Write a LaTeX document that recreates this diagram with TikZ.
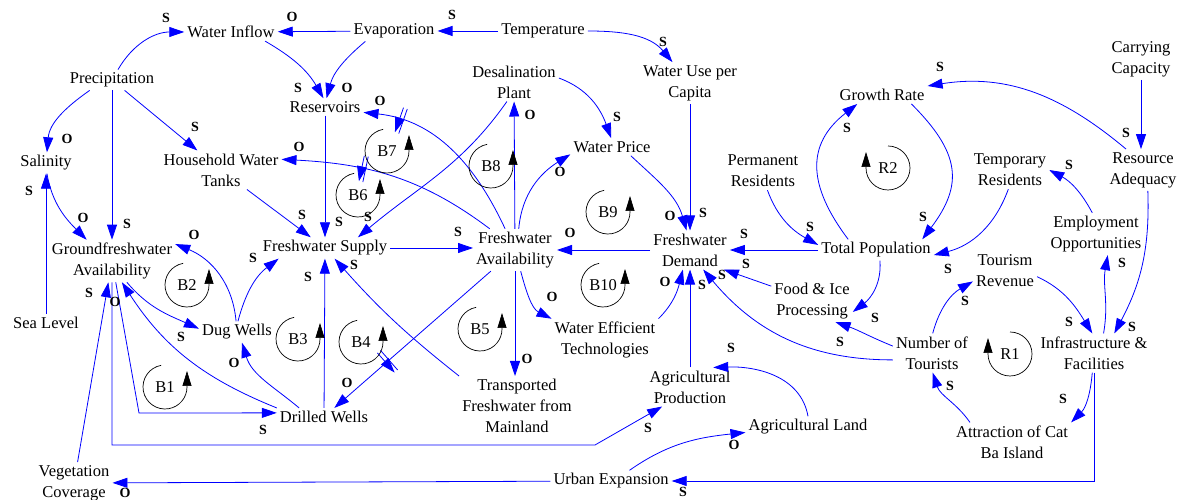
\documentclass[tikz,border=0pt]{standalone}
\usepackage{fontspec}
\setmainfont{Liberation Serif}
\usetikzlibrary{arrows.meta,decorations.markings}

\tikzset{
  varnode/.style={align=center, inner sep=3pt, font=\fontsize{16.5}{21}\selectfont},
  causal/.style={draw=blue, line width=0.8pt, -{Triangle[length=15pt,width=10pt]}},
  polarity/.style={inner sep=0pt, font=\fontsize{14}{14}\selectfont\bfseries},
  delaymark/.style={postaction={decorate, decoration={markings, mark=at position #1 with {
        \draw[blue, line width=0.8pt] (-2,-13) -- (-2,13) (2,-13) -- (2,13);}}}},
  looptext/.style={inner sep=0pt, font=\fontsize{16.5}{21}\selectfont},
  looparc/.style={draw=black, line width=0.7pt, -{Triangle[length=15pt,width=9pt]}}
}

\begin{document}
\begin{tikzpicture}[x=1pt,y=1pt]
  \fill[white] (0,0) rectangle (1177,500);
  \useasboundingbox (0,0) rectangle (1177,500);

  % variables
  \node[varnode] (winflow) at (231,468) {Water Inflow};
  \node[varnode] (evap) at (394,469) {Evaporation};
  \node[varnode] (temp) at (543,469) {Temperature};
  \node[varnode] (prec) at (112,420) {Precipitation};
  \node[varnode] (wupc) at (690,417) {Water Use per\\Capita};
  \node[varnode] (desal) at (514,418) {Desalination\\Plant};
  \node[varnode] (resv) at (325,393) {Reservoirs};
  \node[varnode] (grate) at (882,405) {Growth Rate};
  \node[varnode] (carry) at (1141,441) {Carrying\\Capacity};
  \node[varnode] (salin) at (46,337) {Salinity};
  \node[varnode] (hwt) at (221,330) {Household Water\\Tanks};
  \node[varnode] (wprice) at (612,353) {Water Price};
  \node[varnode] (permres) at (763,329) {Permanent\\Residents};
  \node[varnode] (tempres) at (1010,330) {Temporary\\Residents};
  \node[varnode] (resadq) at (1143,330) {Resource\\Adequacy};
  \node[varnode] (employ) at (1096,266) {Employment\\Opportunities};
  \node[varnode] (gfa) at (112,239) {Groundfreshwater\\Availability};
  \node[varnode] (fsupply) at (325,252) {Freshwater Supply};
  \node[varnode] (favail) at (515,250) {Freshwater\\Availability};
  \node[varnode] (fdemand) at (690,250) {Freshwater\\Demand};
  \node[varnode] (totpop) at (876,250) {Total Population};
  \node[varnode] (tourrev) at (1005,229) {Tourism\\Revenue};
  \node[varnode] (sealvl) at (46,177) {Sea Level};
  \node[varnode] (dugw) at (237,168) {Dug Wells};
  \node[varnode] (foodice) at (812,199) {Food \& Ice\\Processing};
  \node[varnode] (wetech) at (605,160) {Water Efficient\\Technologies};
  \node[varnode] (ntour) at (932,147) {Number of\\Tourists};
  \node[varnode] (infra) at (1094,147) {Infrastructure \&\\Facilities};
  \node[varnode] (drillw) at (324,83) {Drilled Wells};
  \node[varnode] (transp) at (517,94) {Transported\\Freshwater from\\Mainland};
  \node[varnode] (agprod) at (690,113) {Agricultural\\Production};
  \node[varnode] (agland) at (808,73) {Agricultural Land};
  \node[varnode] (attract) at (1012,58) {Attraction of Cat\\Ba Island};
  \node[varnode] (vegcov) at (74,17) {Vegetation\\Coverage};
  \node[varnode] (urban) at (611,19) {Urban Expansion};

  % water side
  \draw[causal] (prec.60) to[out=60,in=180] (winflow);
  \draw[causal] (evap) -- (winflow);
  \draw[causal] (temp) -- (evap);
  \draw[causal] (temp.east) to[out=0,in=130] (wupc.130);
  \draw[causal] (winflow.-15) to[out=-30,in=120] (resv.100);
  \draw[causal] (evap.200) to[out=220,in=75] (resv.80);
  \draw[causal] (prec.205) to[out=215,in=85] (salin.85);
  \draw[causal] (prec) -- (gfa);
  \draw[causal] (prec) -- (hwt);
  \draw[causal] (salin.-85) to[out=-80,in=135] (gfa.140);
  \draw[causal] (sealvl.north) -- (sealvl.north |- salin.south);
  \draw[causal] (resv) -- (fsupply);
  \draw[causal] (hwt) -- (fsupply);
  \draw[causal] (desal.-110) to[out=235,in=40] (fsupply.18);
  \draw[causal, delaymark=0.8] (favail.115) to[out=115,in=-6] (resv.-8);
  \draw[causal, delaymark=0.63] (favail.140) to[out=143,in=-3] (hwt.10);
  \draw[causal] (fsupply.east) -- (fsupply.east -| favail.west);
  \draw[causal] (fdemand) -- (favail);
  \draw[causal] (favail) -- (desal);
  \draw[causal] (favail.80) to[out=85,in=212] (wprice.190);
  \draw[causal] (desal.5) to[out=-20,in=110] (wprice.95);
  \draw[causal] (wprice.-25) to[out=-43,in=106] (fdemand.100);
  \draw[causal] (wupc) -- (fdemand);
  \draw[causal] (totpop) -- (fdemand);
  \draw[causal] (foodice.160) -- (fdemand.-30);
  \draw[causal] (ntour.190) to[out=180,in=-50] (fdemand.-56);
  \draw[causal] (wetech.north east) to[out=45,in=-104] (fdemand.-110);
  \draw[causal] (agprod) -- (fdemand);
  \draw[causal] (favail.-75) to[out=-75,in=153] (wetech.north west);
  \draw[causal] (favail.south) -- (favail.south |- transp.north);
  \draw[causal, delaymark=0.66] (favail) -- (drillw);
  \draw[causal] (transp.north west) to[bend left=5] (fsupply.-48);
  \draw[causal] (drillw) -- (fsupply);

  % groundwater and land
  \draw[causal] (dugw.85) to[out=75,in=217] (fsupply.193);
  \draw[causal] (dugw.95) to[out=95,in=-22] (gfa.15);
  \draw[causal] (gfa.-55) to[out=-50,in=156] (dugw.175);
  \draw[causal] (drillw.160) to[out=140,in=-73] (dugw.-65);
  \draw[causal] (drillw.north west) to[out=158,in=-57] (gfa.-65);
  \draw[causal] (gfa.-80) -- (139,87) -- (drillw.175);
  \draw[causal] (vegcov) -- (gfa);
  \draw[causal] (gfa.-90) -- (112,55) -- (595,55) -- (agprod.-145);
  \draw[causal] (agland.north) to[out=100,in=2] (agprod.40);
  \draw[causal] (urban.30) to[out=35,in=186] (agland.185);
  \draw[causal] (urban) -- (vegcov);
  \draw[causal] (infra.south) |- (urban.east);

  % population and tourism
  \draw[causal] (totpop.-70) to[out=-85,in=37] (foodice.-15);
  \draw[causal] (ntour.170) to[out=158,in=-19] (foodice.-42);
  \draw[causal] (permres.-77) to[out=-70,in=151] (totpop.175);
  \draw[causal] (totpop.159) to[out=127,in=218,looseness=1.25] (grate.200);
  \draw[causal] (grate.-17) to[out=-45,in=53,looseness=1.3] (totpop.13);
  \draw[causal] (resadq.129) to[out=140,in=9] (grate.north east);
  \draw[causal] (carry.south) -- (carry.south |- resadq.north);
  \draw[causal] (tempres.-95) to[out=-110,in=14] (totpop.-5);
  \draw[causal] (employ.100) to[out=118,in=-28] (tempres.east);
  \draw[causal] (infra.64) to[out=80,in=-100] (employ.-61);
  \draw[causal] (resadq.-77) to[out=-88,in=62] (infra.44);
  \draw[causal] (tourrev.-10) to[out=-25,in=122] (infra.95);
  \draw[causal] (ntour.88) to[out=75,in=210] (tourrev.198);
  \draw[causal] (infra.-95) to[out=-95,in=45] (attract.north east);
  \draw[causal] (attract.155) to[out=125,in=-72] (ntour.-88);

  % polarities
  \foreach \t/\x/\y [count=\i] in {S/166/482, O/292/483, S/452/485, S/663/458,
      S/298/412, O/347/412, O/67/361, S/127/276, S/195/373, O/83/282, S/29/309,
      S/339/278, S/302/285, S/368/283, O/380/399, O/299/353, S/458/268, O/570/267,
      O/530/385, O/560/328, S/617/383, O/670/284, S/703/287, S/744/266, S/746/236,
      S/722/225, O/665/218, S/702/215, O/552/203, O/527/141, O/347/117, S/354/235,
      S/308/223, S/253/242, O/194/265, S/181/163, O/234/137, O/115/198, S/263/70,
      S/89/207, S/648/72, S/731/152, O/734/55, O/125/7, S/683/8, S/875/182,
      S/840/158, S/810/273, S/847/372, S/923/283, S/940/433, S/1126/367, S/948/231,
      S/1069/335, S/1122/237, S/1132/173, S/1069/178, S/965/199, S/1063/101, S/950/114}
    \node[polarity] (pol\i) at (\x,\y) {\t};

  % loops
  \foreach \nm/\cx/\cy in {B1/165/113, B2/187/215, B3/298/161, B4/361/158, B5/480/171,
      B6/358/305, B7/387/349, B8/491/334, B9/608/288, B10/603/215} {
    \node[looptext] (\nm) at (\cx,\cy) {\nm};
    \draw[looparc] (\cx,\cy) ++(100:22) arc[start angle=100, end angle=360, radius=22] -- ++(0,16);
  }
  \foreach \nm/\cx/\cy in {R1/1010/146, R2/888/332} {
    \node[looptext] (\nm) at (\cx,\cy) {\nm};
    \draw[looparc] (\cx,\cy) ++(90:22) arc[start angle=90, end angle=-180, radius=22] -- ++(0,16);
  }
\end{tikzpicture}
\end{document}
